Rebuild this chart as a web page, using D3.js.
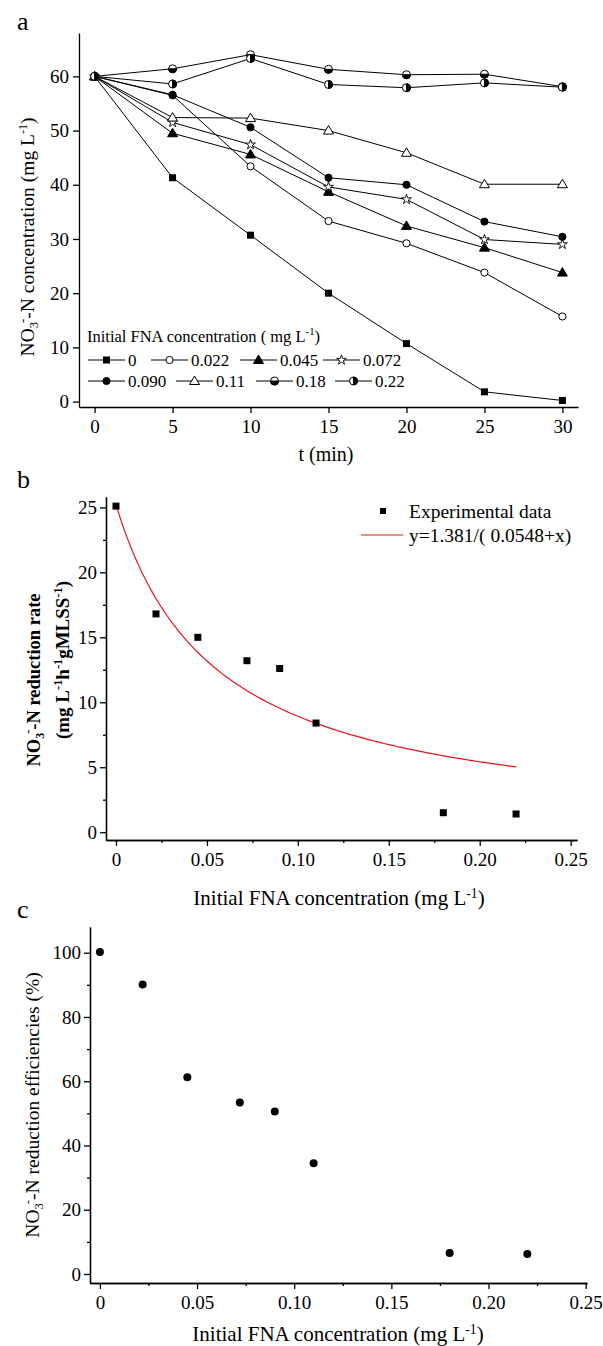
<!DOCTYPE html>
<html>
<head>
<meta charset="utf-8">
<script src="https://cdn.jsdelivr.net/npm/d3@7"></script>
<style>
  body { margin: 0; background: #fff; }
  svg { display: block; font-family: "Liberation Serif", "Times New Roman", serif; }
  .axis path, .axis line { stroke: #000; stroke-width: 1.3; }
  .axis text { font-family: "Liberation Serif", serif; font-size: 19px; fill: #000; }
</style>
</head>
<body>
<script>
// panel a: nitrate over time for each initial FNA level
var timeMin = [0, 5, 10, 15, 20, 25, 30];
var fnaLevels = ["0", "0.022", "0.045", "0.072", "0.090", "0.11", "0.18", "0.22"];
var no3_0   = [60, 41.3, 30.7, 20.0, 10.7, 1.8, 0.2];
var no3_022 = [60, 56.5, 43.4, 33.3, 29.2, 23.8, 15.7];
var no3_045 = [60, 49.5, 45.6, 38.7, 32.4, 28.4, 23.8];
var no3_072 = [60, 51.5, 47.4, 39.6, 37.3, 29.9, 29.0];
var no3_090 = [60, 56.6, 50.6, 41.3, 40.0, 33.2, 30.4];
var no3_11  = [60, 52.4, 52.3, 50.0, 45.9, 40.1, 40.1];
var no3_18  = [60, 61.4, 64.0, 61.3, 60.3, 60.4, 58.1];
var no3_22  = [60, 58.6, 63.3, 58.5, 57.9, 58.8, 58.0];
var markerTypes = ["sq", "oc", "ft", "star", "fc", "ot", "hb", "vr"];

// panel b and c
var fnaConc = [0, 0.022, 0.045, 0.072, 0.090, 0.11, 0.18, 0.22];
var rate = [25.1, 16.8, 15.0, 13.2, 12.6, 8.4, 1.5, 1.4];
var efficiency = [100.2, 90.1, 61.2, 53.4, 50.6, 34.5, 6.5, 6.2];
// fitted model y = fitA/(fitB + x)
var fitA = 1.381, fitB = 0.0548;

var width = 603, height = 1346;
var svg = d3.select("body").append("svg")
    .attr("width", width)
    .attr("height", height);

//draw one symbol
function marker(g, type, x, y) {
    var s;
    if (type == "sq") {
        g.append("rect").attr("x", x - 3.5).attr("y", y - 3.5).attr("width", 7).attr("height", 7).attr("fill", "#000");
    } else if (type == "oc" || type == "fc") {
        g.append("circle").attr("cx", x).attr("cy", y).attr("r", 3.6)
            .attr("fill", type == "fc" ? "#000" : "#fff").attr("stroke", "#000").attr("stroke-width", 1);
    } else if (type == "ft" || type == "ot") {
        g.append("path").attr("d", "M" + x + "," + (y - 5) + "L" + (x + 5) + "," + (y + 3.5) + "L" + (x - 5) + "," + (y + 3.5) + "Z")
            .attr("fill", type == "ft" ? "#000" : "#fff").attr("stroke", "#000").attr("stroke-width", 1);
    } else if (type == "star") {
        s = d3.symbol().type(d3.symbolStar).size(30);
        g.append("path").attr("d", s()).attr("transform", "translate(" + x + "," + y + ")")
            .attr("fill", "#fff").attr("stroke", "#000").attr("stroke-width", 0.9);
    } else if (type == "hb" || type == "vr") {
        var r = 4;
        g.append("circle").attr("cx", x).attr("cy", y).attr("r", r).attr("fill", "#fff").attr("stroke", "#000").attr("stroke-width", 1);
        var half = type == "hb"
            ? "M" + (x - r) + "," + y + "A" + r + "," + r + " 0 0,0 " + (x + r) + "," + y + "Z"
            : "M" + x + "," + (y - r) + "A" + r + "," + r + " 0 0,1 " + x + "," + (y + r) + "Z";
        g.append("path").attr("d", half).attr("fill", "#000").attr("stroke", "#000").attr("stroke-width", 1);
    }
}

function panelLetter(t, x, y) {
    svg.append("text").attr("x", x).attr("y", y).attr("font-size", 26).text(t);
}

//NO3- label with subscript and superscript
function no3Label(el, rest, size) {
    el.append("tspan").text("NO");
    el.append("tspan").attr("font-size", size * 0.65).attr("dy", 4).text("3");
    el.append("tspan").attr("font-size", size * 0.65).attr("dy", -12).attr("dx", -1).text("-");
    el.append("tspan").attr("dy", 8).text("-N " + rest);
}

function supText(el, parts, size) {
    // parts: [text, isSup]
    var up = false;
    parts.forEach(function (p) {
        var t = el.append("tspan").text(p[0]);
        if (p[1] && !up) { t.attr("dy", -7).attr("font-size", size * 0.65); up = true; }
        else if (p[1]) { t.attr("font-size", size * 0.65); }
        else if (up) { t.attr("dy", 7); up = false; }
    });
}

// ---------------- panel a ----------------
var xA = d3.scaleLinear().domain([-1, 31]).range([79, 578]);
var yA = d3.scaleLinear().domain([-1, 68]).range([407, 33]);
var gA = svg.append("g");

gA.append("g").attr("class", "axis").attr("transform", "translate(0,407)")
    .call(d3.axisBottom(xA).tickValues(timeMin).tickSize(6).tickSizeOuter(0).tickPadding(7));
gA.append("g").attr("class", "axis").attr("transform", "translate(79,0)")
    .call(d3.axisLeft(yA).tickValues([0, 10, 20, 30, 40, 50, 60]).tickSize(6).tickSizeOuter(0).tickPadding(4));

var seriesA = [no3_0, no3_022, no3_045, no3_072, no3_090, no3_11, no3_18, no3_22];
var lineA = d3.line().x(function (d, i) { return xA(timeMin[i]); }).y(function (d) { return yA(d); });
seriesA.forEach(function (s) {
    gA.append("path").attr("d", lineA(s)).attr("fill", "none").attr("stroke", "#000").attr("stroke-width", 1);
});
seriesA.forEach(function (s, k) {
    s.forEach(function (v, i) { marker(gA, markerTypes[k], xA(timeMin[i]), yA(v)); });
});

var ylabA = gA.append("text").attr("transform", "translate(34,237) rotate(-90)")
    .attr("text-anchor", "middle").attr("font-size", 19.5);
no3Label(ylabA, "concentration (mg L", 19.5);
ylabA.append("tspan").attr("font-size", 12).attr("dy", -7).text("-1");
ylabA.append("tspan").attr("dy", 7).text(")");

gA.append("text").attr("x", 326).attr("y", 461).attr("text-anchor", "middle").attr("font-size", 20).text("t (min)");

// legend a
var legT = gA.append("text").attr("x", 87).attr("y", 342).attr("font-size", 16.5);
supText(legT, [["Initial FNA concentration ( mg L", false], ["-1", true], [")", false]], 16.5);
var legPos = [[88, 366], [151, 366], [240, 366], [323, 366], [88, 387], [176, 387], [256, 387], [335, 387]];
fnaLevels.forEach(function (lab, k) {
    var p = legPos[k];
    gA.append("line").attr("x1", p[0]).attr("x2", p[0] + 37).attr("y1", p[1] - 6).attr("y2", p[1] - 6)
        .attr("stroke", "#000").attr("stroke-width", 1);
    marker(gA, markerTypes[k], p[0] + 18.5, p[1] - 6);
    gA.append("text").attr("x", p[0] + 40).attr("y", p[1]).attr("font-size", 17).text(lab);
});
panelLetter("a", 17, 30);

// ---------------- panel b ----------------
var xB = d3.scaleLinear().domain([-0.0055, 0.2535]).range([106, 577]);
var yB = d3.scaleLinear().domain([-0.6, 25.8]).range([840, 497]);
var gB = svg.append("g");
var xMajor = [0, 0.05, 0.10, 0.15, 0.20, 0.25];
var xMinor = [0.025, 0.075, 0.125, 0.175, 0.225];
var fmtX = function (d) { return d == 0 ? "0" : d3.format(".2f")(d); };

gB.append("g").attr("class", "axis").attr("transform", "translate(0,840)")
    .call(d3.axisBottom(xB).tickValues(xMajor).tickFormat(fmtX).tickSize(6).tickSizeOuter(0).tickPadding(7));
gB.append("g").attr("class", "axis").attr("transform", "translate(0,840)")
    .call(d3.axisBottom(xB).tickValues(xMinor).tickFormat("").tickSize(3).tickSizeOuter(0));
gB.append("g").attr("class", "axis").attr("transform", "translate(106,0)")
    .call(d3.axisLeft(yB).tickValues([0, 5, 10, 15, 20, 25]).tickSize(6).tickSizeOuter(0).tickPadding(3));
gB.append("g").attr("class", "axis").attr("transform", "translate(106,0)")
    .call(d3.axisLeft(yB).tickValues([2.5, 7.5, 12.5, 17.5, 22.5]).tickFormat("").tickSize(3).tickSizeOuter(0));

var fitX = d3.range(0, 0.2201, 0.002);
gB.append("path")
    .attr("d", d3.line().x(function (d) { return xB(d); }).y(function (d) { return yB(fitA / (fitB + d)); })(fitX))
    .attr("fill", "none").attr("stroke", "#e8141c").attr("stroke-width", 1.2);
fnaConc.forEach(function (c, i) {
    gB.append("rect").attr("x", xB(c) - 3.5).attr("y", yB(rate[i]) - 3.5).attr("width", 7).attr("height", 7).attr("fill", "#000");
});

gB.append("rect").attr("x", 380).attr("y", 508).attr("width", 6).attr("height", 6).attr("fill", "#000");
gB.append("text").attr("x", 409).attr("y", 518).attr("font-size", 19.5).text("Experimental data");
gB.append("line").attr("x1", 361).attr("x2", 403).attr("y1", 535).attr("y2", 535).attr("stroke", "#e8141c").attr("stroke-width", 1.2);
gB.append("text").attr("x", 409).attr("y", 542).attr("font-size", 19.5).text("y=1.381/( 0.0548+x)");

var ylabB1 = gB.append("text").attr("transform", "translate(40,680) rotate(-90)")
    .attr("text-anchor", "middle").attr("font-size", 18.5).attr("font-weight", "bold");
no3Label(ylabB1, "reduction rate", 18.5);
var ylabB2 = gB.append("text").attr("transform", "translate(69,660) rotate(-90)")
    .attr("text-anchor", "middle").attr("font-size", 19).attr("font-weight", "bold");
supText(ylabB2, [["(mg L", false], ["-1", true], ["h", false], ["-1", true], ["gMLSS", false], ["-1", true], [")", false]], 19);

var xlabB = gB.append("text").attr("x", 339).attr("y", 905).attr("text-anchor", "middle").attr("font-size", 21);
supText(xlabB, [["Initial FNA concentration (mg L", false], ["-1", true], [")", false]], 21);
panelLetter("b", 17, 488);

// ---------------- panel c ----------------
var xC = d3.scaleLinear().domain([-0.0051, 0.2507]).range([90, 587]);
var yC = d3.scaleLinear().domain([-2.8, 108]).range([1283, 927]);
var gC = svg.append("g");

gC.append("g").attr("class", "axis").attr("transform", "translate(0,1283)")
    .call(d3.axisBottom(xC).tickValues(xMajor).tickFormat(fmtX).tickSize(6).tickSizeOuter(0).tickPadding(7));
gC.append("g").attr("class", "axis").attr("transform", "translate(0,1283)")
    .call(d3.axisBottom(xC).tickValues(xMinor).tickFormat("").tickSize(3).tickSizeOuter(0));
gC.append("g").attr("class", "axis").attr("transform", "translate(90,0)")
    .call(d3.axisLeft(yC).tickValues([0, 20, 40, 60, 80, 100]).tickSize(6).tickSizeOuter(0).tickPadding(3));
gC.append("g").attr("class", "axis").attr("transform", "translate(90,0)")
    .call(d3.axisLeft(yC).tickValues([10, 30, 50, 70, 90]).tickFormat("").tickSize(3).tickSizeOuter(0));

fnaConc.forEach(function (c, i) {
    gC.append("circle").attr("cx", xC(c)).attr("cy", yC(efficiency[i])).attr("r", 4).attr("fill", "#000");
});

var ylabC = gC.append("text").attr("transform", "translate(39,1105) rotate(-90)")
    .attr("text-anchor", "middle").attr("font-size", 19.5);
no3Label(ylabC, "reduction efficiencies (%)", 19.5);

var xlabC = gC.append("text").attr("x", 338).attr("y", 1341).attr("text-anchor", "middle").attr("font-size", 21);
supText(xlabC, [["Initial FNA concentration (mg L", false], ["-1", true], [")", false]], 21);
panelLetter("c", 17, 918);
</script>
</body>
</html>
